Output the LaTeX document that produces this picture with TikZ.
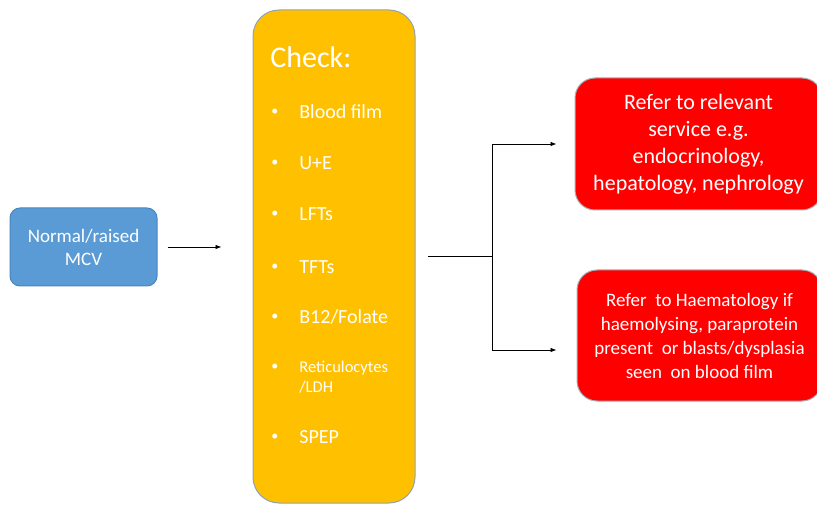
\documentclass[tikz,border=0pt]{standalone}
\usepackage{fontspec}
\setmainfont{Carlito}
\usetikzlibrary{arrows.meta,positioning}
\definecolor{mcvfill}{HTML}{5B9BD5}
\definecolor{mcvedge}{HTML}{4A86BE}
\definecolor{checkfill}{HTML}{FFC000}
\definecolor{checkedge}{HTML}{8FA3B4}
\definecolor{referfill}{HTML}{FF0000}
\definecolor{referedge}{HTML}{A7AEB6}

\begin{document}
\begin{tikzpicture}[x=1pt, y=-1pt, >={Latex[length=6pt,width=4.5pt]}, line width=0.7pt]
    \useasboundingbox (0,0) rectangle (817,505);
    \tikzset{
      box/.style={line width=1pt, text=white, align=center, inner sep=0pt},
      item/.style={text=white, anchor=west, inner sep=0pt, font=\fontsize{20}{24}\selectfont},
      dot/.style={item, font=\fontsize{14}{16}\selectfont}
    }
    % boxes
    \node[box, fill=mcvfill, draw=mcvedge, minimum width=147pt, minimum height=78pt,
          rounded corners=10pt, font=\fontsize{19}{23}\selectfont] (mcv) at (83.5,247) {Normal/raised\\MCV};
    \node[box, fill=checkfill, draw=checkedge, minimum width=162pt, minimum height=493pt,
          rounded corners=26pt] (chk) at (334,256.5) {};
    \node[box, fill=referfill, draw=referedge, minimum width=247pt, minimum height=132pt,
          rounded corners=20pt, font=\fontsize{22}{27}\selectfont] (ref1) at (698.5,144)
          {Refer to relevant\\service e.g.\\endocrinology,\\hepatology, nephrology};
    \node[box, fill=referfill, draw=referedge, minimum width=245pt, minimum height=131pt,
          rounded corners=20pt, font=\fontsize{19}{24}\selectfont] (ref2) at (699.5,335.5)
          {Refer\ \ to Haematology if\\haemolysing,\ paraprotein\\present\ \ or blasts/dysplasia\\seen\ \ on blood film};
    % check list
    \node[item, font=\fontsize{30}{36}\selectfont] (title) at (270,57) {Check:};
    \foreach \i/\y/\t in {1/112/{Blood film}, 2/163/{U+E}, 3/214/{LFTs}, 4/267/{TFTs}, 5/317/{B12/Folate}, 7/437/{SPEP}} {
      \node[dot] (dot\i) at (271,\y) {•};
      \node[item] (item\i) at (299,\y) {\t};
    }
    \node[dot] (dot6) at (271,367) {•};
    \node[item, align=left, font=\fontsize{16.5}{20}\selectfont, anchor=north west]
          (item6) at (299,361) {Reticulocytes\\/LDH};
    % connectors
    \coordinate (fork) at (492,256.5);
    \draw[->, shorten <=10pt, shorten >=31pt] (mcv.east) -- (chk.west |- mcv.east);
    \draw[shorten <=12pt] (chk.east) -- (fork);
    \draw[->, shorten >=18pt] (fork) |- (ref1.west);
    \draw[->, shorten >=20pt] (fork) |- ([yshift=-14.5pt]ref2.west);
\end{tikzpicture}
\end{document}
